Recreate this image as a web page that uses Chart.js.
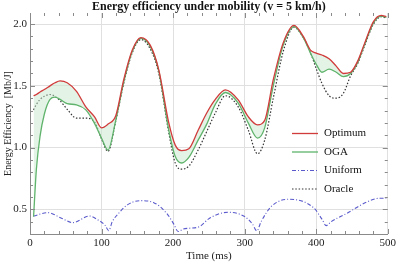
<!DOCTYPE html>
<html>
<head>
<meta charset="utf-8">
<script src="https://cdn.jsdelivr.net/npm/chart.js@4.4.0/dist/chart.umd.min.js"></script>
<style>
  html, body { margin: 0; padding: 0; background: #fff; }
  canvas { display: block; }
</style>
</head>
<body>
<canvas id="effChart" width="399" height="263"></canvas>
<script>
// time samples (ms) shared by Optimum / OGA / Oracle
const times = [5, 9, 14, 20, 28, 35, 42, 52, 65, 78, 90, 100, 109, 120, 131, 143, 155, 168, 180, 194, 203, 212, 222, 235, 247, 259, 273, 291, 305, 318, 328, 340, 354, 369, 382, 392, 400, 408, 418, 428, 438, 448, 458, 468, 480, 491, 498];

const optimum = [1.42, 1.43, 1.45, 1.47, 1.50, 1.525, 1.54, 1.525, 1.455, 1.33, 1.25, 1.16, 1.19, 1.26, 1.55, 1.79, 1.89, 1.83, 1.63, 1.20, 1.02, 0.975, 0.99, 1.14, 1.28, 1.39, 1.468, 1.387, 1.25, 1.184, 1.22, 1.55, 1.85, 1.99, 1.90, 1.79, 1.765, 1.75, 1.72, 1.66, 1.60, 1.61, 1.70, 1.85, 2.02, 2.07, 2.06];

const oga = [0.44, 0.83, 1.09, 1.27, 1.39, 1.408, 1.39, 1.356, 1.346, 1.305, 1.198, 1.076, 0.98, 1.225, 1.53, 1.78, 1.885, 1.82, 1.62, 1.14, 0.927, 0.875, 0.92, 1.06, 1.19, 1.35, 1.446, 1.36, 1.20, 1.076, 1.16, 1.50, 1.83, 1.98, 1.89, 1.765, 1.675, 1.61, 1.635, 1.61, 1.575, 1.60, 1.69, 1.84, 2.01, 2.065, 2.055];

const oracle = [1.305, 1.35, 1.39, 1.415, 1.43, 1.415, 1.38, 1.31, 1.238, 1.238, 1.21, 1.07, 0.97, 1.22, 1.52, 1.77, 1.875, 1.80, 1.60, 1.12, 0.874, 0.825, 0.85, 0.98, 1.13, 1.28, 1.42, 1.33, 1.143, 0.95, 1.06, 1.40, 1.78, 1.975, 1.89, 1.77, 1.64, 1.52, 1.42, 1.40, 1.44, 1.58, 1.68, 1.83, 2.00, 2.06, 2.05];

// uniform has its own samples (sharp dips)
const uniformTimes = [5, 25, 44, 60, 83, 95, 105, 110, 115, 124, 136, 154, 173, 191, 201, 207, 214, 223, 237, 251, 277, 300, 311, 317, 323, 337, 362, 397, 408, 414, 421, 443, 470, 489, 498];
const uniform = [0.446, 0.473, 0.428, 0.392, 0.446, 0.414, 0.37, 0.327, 0.40, 0.468, 0.536, 0.57, 0.554, 0.468, 0.38, 0.32, 0.34, 0.347, 0.36, 0.428, 0.476, 0.441, 0.38, 0.325, 0.40, 0.522, 0.582, 0.509, 0.42, 0.368, 0.40, 0.468, 0.557, 0.59, 0.59];

const xTicks = [0, 100, 200, 300, 400, 500];
const yTicks = [0.5, 1.0, 1.5, 2.0];

const serif = '"Liberation Serif", "DejaVu Serif", serif';

function pts(xs, ys) {
    return xs.map((t, i) => ({ x: t, y: ys[i] }));
}

// inward frame ticks, Mathematica style
const frameTicks = {
    id: 'frameTicks',
    afterDraw(chart) {
        const ctx = chart.ctx;
        const a = chart.chartArea;
        const x = chart.scales.x, y = chart.scales.y;
        ctx.save();
        ctx.strokeStyle = '#8a8a8a';
        ctx.lineWidth = 1;
        ctx.beginPath();
        for (let t = 0; t <= 500; t += 20) {
            const px = Math.round(x.getPixelForValue(t)) + 0.5;
            const len = t % 100 === 0 ? 5 : 3;
            ctx.moveTo(px, a.bottom); ctx.lineTo(px, a.bottom - len);
            ctx.moveTo(px, a.top); ctx.lineTo(px, a.top + len);
        }
        for (let k = 4; k <= 20; k += 1) {
            const py = Math.round(y.getPixelForValue(k / 10)) + 0.5;
            const len = k % 5 === 0 ? 5 : 3;
            ctx.moveTo(a.left, py); ctx.lineTo(a.left + len, py);
            ctx.moveTo(a.right, py); ctx.lineTo(a.right - len, py);
        }
        ctx.stroke();
        ctx.restore();
    }
};

// legend drawn inside the plot, lower right
const innerLegend = {
    id: 'innerLegend',
    afterDatasetsDraw(chart) {
        const ctx = chart.ctx;
        const sets = chart.data.datasets;
        ctx.save();
        ctx.font = '11px ' + serif;
        ctx.textBaseline = 'middle';
        ctx.fillStyle = '#111';
        for (let i = 0; i < sets.length; i += 1) {
            const ds = sets[i];
            const yy = 133.5 + i * 18.5;
            ctx.beginPath();
            ctx.setLineDash(ds.borderDash || []);
            ctx.strokeStyle = ds.borderColor;
            ctx.lineWidth = ds.borderWidth;
            ctx.moveTo(292, yy);
            ctx.lineTo(318, yy);
            ctx.stroke();
            ctx.setLineDash([]);
            ctx.fillText(ds.label, 324, yy);
        }
        ctx.restore();
    }
};

const ctx = document.getElementById('effChart').getContext('2d');
const myChart = new Chart(ctx, {
    type: 'line',
    data: {
        datasets: [{
                label: 'Optimum',
                data: pts(times, optimum),
                borderColor: '#d13b3b',
                borderWidth: 1.3,
                fill: false
            },
            {
                label: 'OGA',
                data: pts(times, oga),
                borderColor: '#5fb36b',
                borderWidth: 1.3,
                fill: { target: 0 },
                backgroundColor: 'rgba(200, 232, 205, 0.5)'
            },
            {
                label: 'Uniform',
                data: pts(uniformTimes, uniform),
                borderColor: '#5a5acc',
                borderWidth: 1.1,
                borderDash: [4, 2, 1, 2],
                fill: false
            },
            {
                label: 'Oracle',
                data: pts(times, oracle),
                borderColor: '#333333',
                borderWidth: 1.2,
                borderDash: [1.5, 1.8],
                fill: false
            }
        ]
    },
    options: {
        responsive: false,
        animation: false,
        elements: { point: { radius: 0 }, line: { cubicInterpolationMode: 'monotone' } },
        layout: { padding: { left: 0, right: 9, top: 0, bottom: 0 } },
        plugins: {
            legend: { display: false },
            tooltip: { enabled: false },
            title: {
                display: true,
                fullSize: false,
                text: 'Energy efficiency under mobility (v = 5 km/h)',
                color: '#111',
                font: { family: serif, size: 12, weight: 'bold', lineHeight: 1.0 },
                padding: { top: 1, bottom: 0 }
            }
        },
        scales: {
            x: {
                type: 'linear',
                min: 0,
                max: 500,
                afterBuildTicks: function(scale) {
                    scale.ticks = xTicks.map(v => ({ value: v }));
                },
                afterFit: function(scale) { scale.height = 29; },
                grid: { color: '#e0e0e0', drawTicks: false },
                border: { color: '#8a8a8a' },
                ticks: { color: '#222', padding: 3, font: { family: serif, size: 11 }, maxRotation: 0 },
                title: {
                    display: true,
                    text: 'Time (ms)',
                    color: '#222',
                    font: { family: serif, size: 11 },
                    padding: { top: 2, bottom: 0 }
                }
            },
            y: {
                min: 0.3,
                max: 2.09,
                afterBuildTicks: function(scale) {
                    scale.ticks = yTicks.map(v => ({ value: v }));
                },
                afterFit: function(scale) { scale.width = 30; },
                grid: { color: '#e0e0e0', drawTicks: false },
                border: { color: '#8a8a8a' },
                ticks: {
                    color: '#222',
                    padding: 3,
                    font: { family: serif, size: 11 },
                    callback: function(v) { return Number(v).toFixed(1); }
                },
                title: {
                    display: true,
                    text: 'Energy Efficiency  [Mb/J]',
                    color: '#222',
                    font: { family: serif, size: 10 },
                    padding: { top: 2, bottom: 0 }
                }
            }
        }
    },
    plugins: [frameTicks, innerLegend]
});
</script>
</body>
</html>
